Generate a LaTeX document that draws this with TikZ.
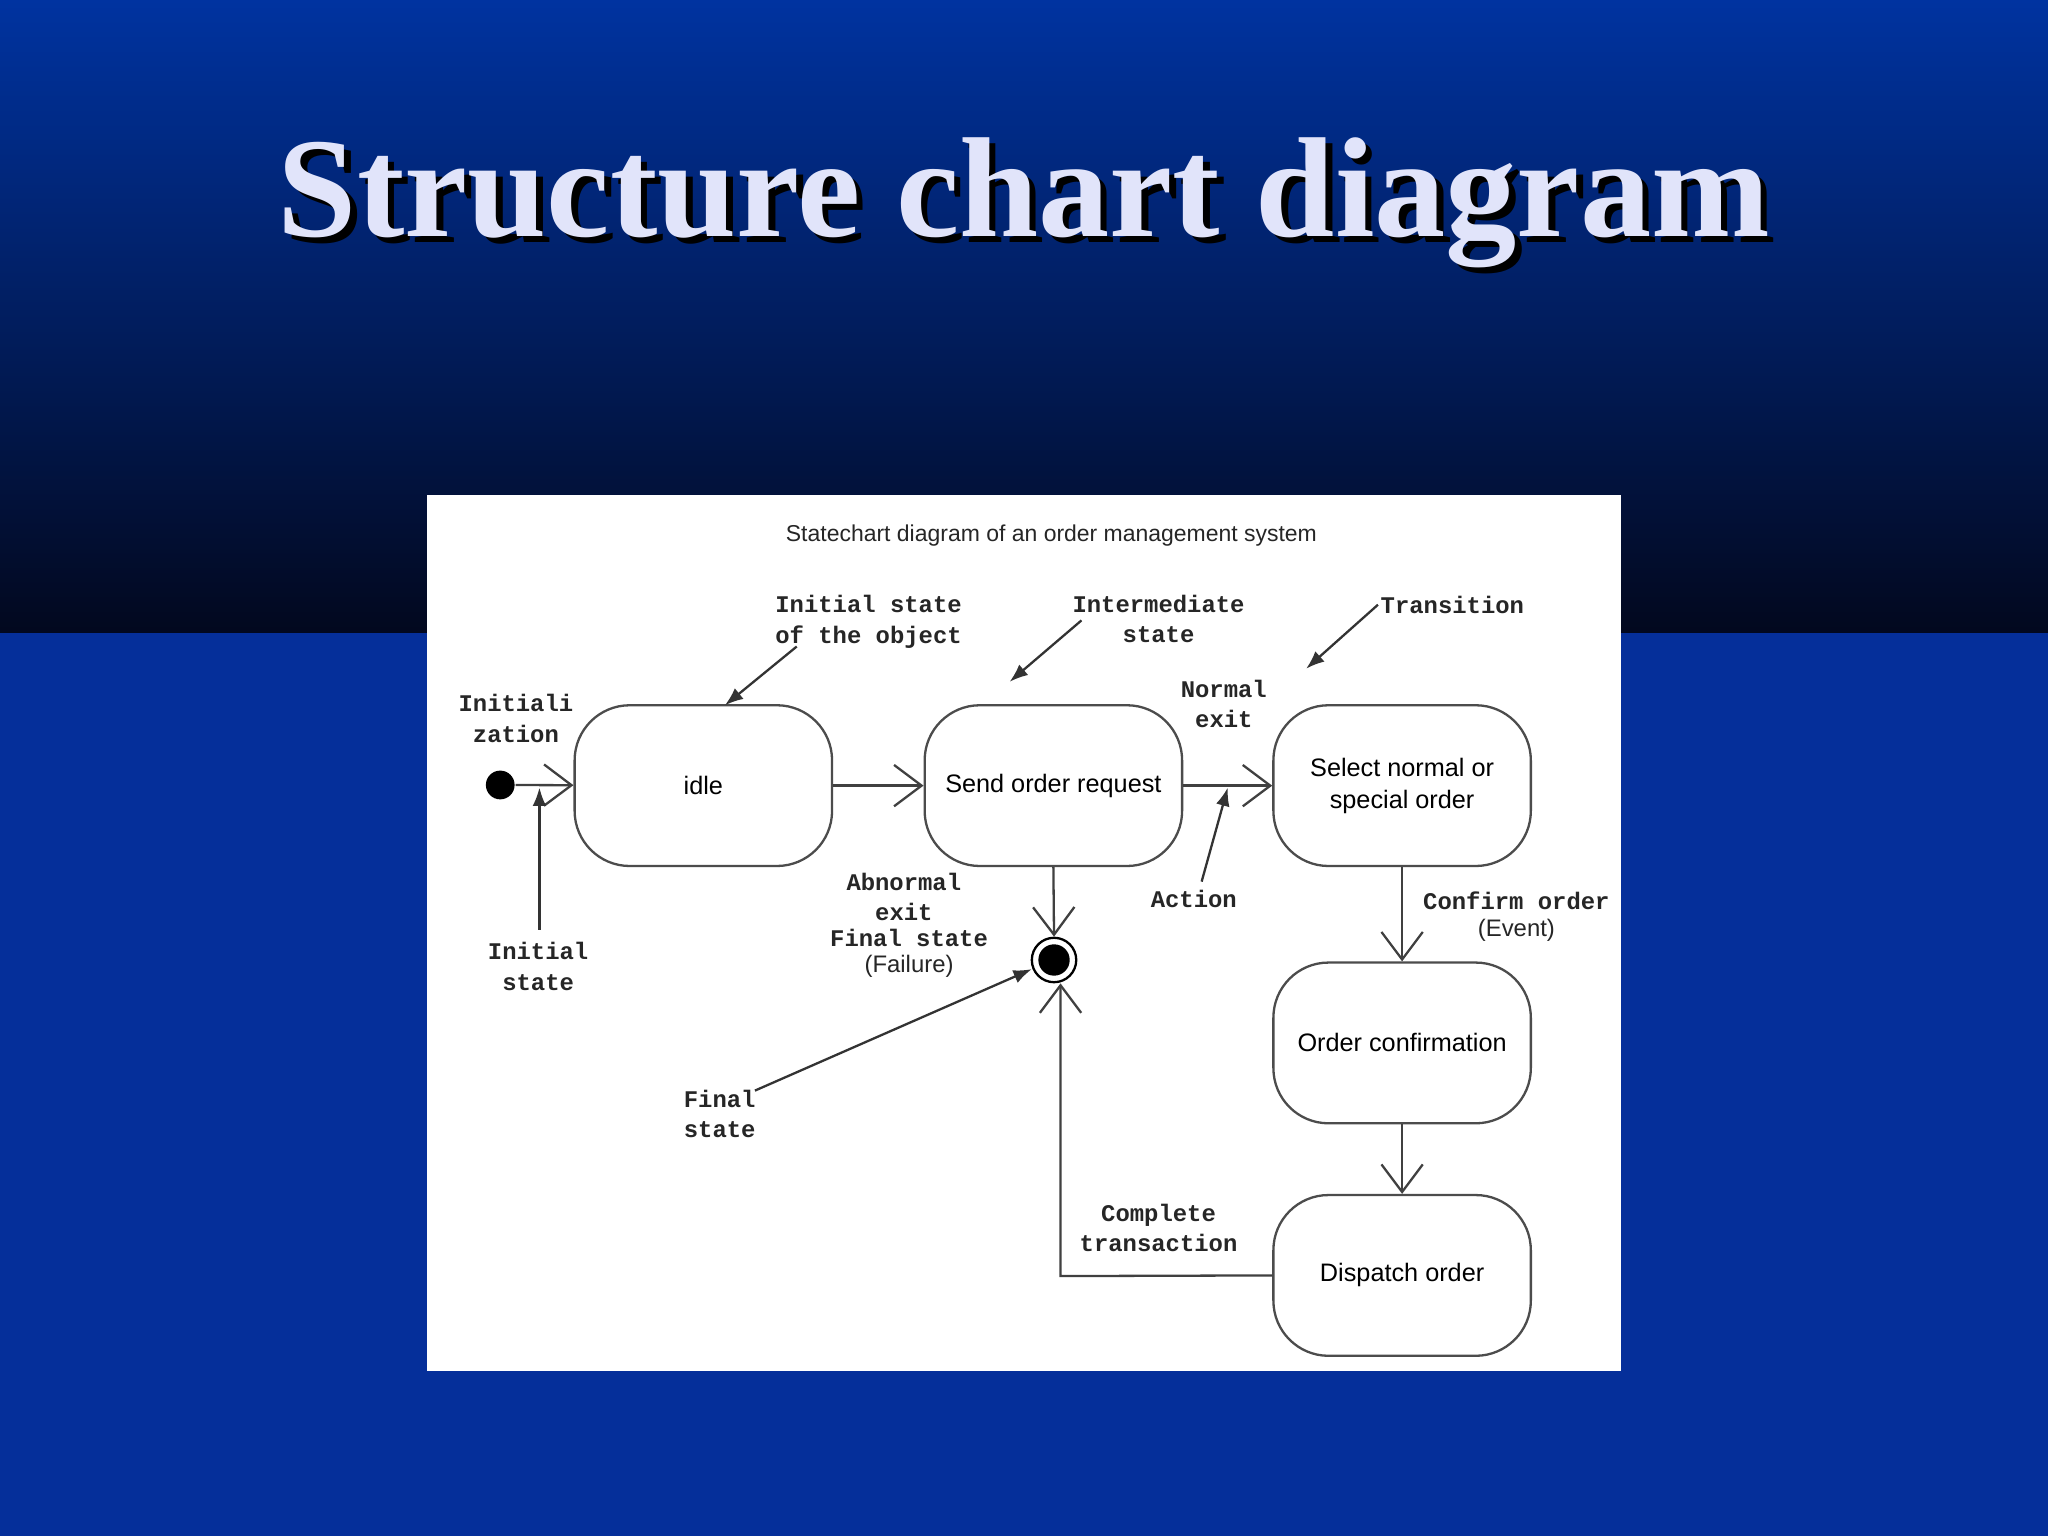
\documentclass[tikz,border=0pt]{standalone}
\usepackage{fontspec}
\setmainfont{Liberation Serif}
\setsansfont{Liberation Sans}
\setmonofont{Liberation Mono}
\usetikzlibrary{arrows.meta}
\definecolor{topblue}{RGB}{0,51,160}
\definecolor{darkblue}{RGB}{2,8,30}
\definecolor{lowblue}{RGB}{5,47,154}
\definecolor{titlecol}{RGB}{225,228,250}
\begin{document}
\begin{tikzpicture}[x=0.01cm,y=-0.01cm,
  st/.style={draw=black!70,line width=0.5pt,rounded corners=12pt,minimum width=1.97cm,minimum height=1.23cm,font=\sffamily\fontsize{5.5}{7}\selectfont,align=center},
  flow/.style={draw=black!75,line width=0.5pt,-{Straight Barb[length=6pt,width=9pt]}},
  ptr/.style={draw=black!80,line width=0.5pt,-{Latex[length=4pt,width=3pt]}},
  lab/.style={font=\ttfamily\bfseries\fontsize{5.2}{6.6}\selectfont,align=center,text=black!85},
  slab/.style={font=\sffamily\fontsize{5.2}{6.6}\selectfont,align=center,text=black!85}]
\useasboundingbox (0,0) rectangle (1568,1176);
\shade[top color=topblue,bottom color=darkblue] (0,0) rectangle (1568,485);
\fill[lowblue] (0,485) rectangle (1568,1176);
\node[font=\bfseries\fontsize{31}{36}\selectfont,text=black] (titleshadow) at (789,160) {Structure chart diagram};
\node[font=\bfseries\fontsize{31}{36}\selectfont,text=titlecol] (title) at (784,155) {Structure chart diagram};
\fill[white] (327,379) rectangle (1241,1050);
\node[slab,font=\sffamily\fontsize{5}{6}\selectfont] (cap) at (805,410) {Statechart diagram of an order management system};
\node[st] (idle) at (538.5,601.5) {idle};
\node[st] (send) at (806.5,601.5) {Send order request};
\node[st] (sel) at (1073.5,601.5) {Select normal or\\special order};
\node[st] (conf) at (1073.5,798.5) {Order confirmation};
\node[st] (disp) at (1073.5,976.5) {Dispatch order};
\node[circle,fill=black,inner sep=0,minimum size=0.22cm] (init) at (383,601) {};
\node[circle,draw=black,line width=0.5pt,fill=white,inner sep=0,minimum size=0.34cm] (fin) at (807,735) {};
\node[circle,fill=black,inner sep=0,minimum size=0.24cm] (fincore) at (fin) {};
\draw[flow] (init) -- (idle);
\draw[flow] (idle) -- (send);
\draw[flow] (send) -- (sel);
\draw[flow] (sel) -- (conf);
\draw[flow] (conf) -- (disp);
\draw[flow] (send.south) -- (fin.north);
\coordinate (corner) at (812,977);
\draw[flow] (disp.west) -- (corner) -- (fin.south -| corner);
\node[lab] (l1) at (395,550) {Initiali\\zation};
\node[lab] (l2) at (665,476) {Initial state\\of the object};
\node[lab] (l3) at (887,474) {Intermediate\\state};
\node[lab] (l4) at (1112,463) {Transition};
\node[lab] (l5) at (937,539) {Normal\\exit};
\node[lab] (l6) at (914,688) {Action};
\node[lab] (l7) at (412,740) {Initial\\state};
\node[lab] (l8) at (692,687) {Abnormal\\exit};
\node[lab] (l9) at (696,718) {Final state};
\node[slab] (l9b) at (696,740) {(Failure)};
\node[lab] (l10) at (551,853) {Final\\state};
\node[lab] (l11) at (1161,690) {Confirm order};
\node[slab] (l11b) at (1161,712) {(Event)};
\node[lab] (l12) at (887,940) {Complete\\transaction};
\coordinate (a1) at (610,495); \coordinate (b1) at (555,540);
\draw[ptr] (a1) -- (b1);
\coordinate (a2) at (828,475); \coordinate (b2) at (773,522);
\draw[ptr] (a2) -- (b2);
\coordinate (a3) at (1055,463); \coordinate (b3) at (1000,512);
\draw[ptr] (a3) -- (b3);
\coordinate (a4) at (920,675); \coordinate (b4) at (940,603);
\draw[ptr] (a4) -- (b4);
\coordinate (a5) at (413,712); \coordinate (b5) at (413,603);
\draw[ptr] (a5) -- (b5);
\coordinate (a6) at (578,835); \coordinate (b6) at (790,742);
\draw[ptr] (a6) -- (b6);
\end{tikzpicture}
\end{document}
